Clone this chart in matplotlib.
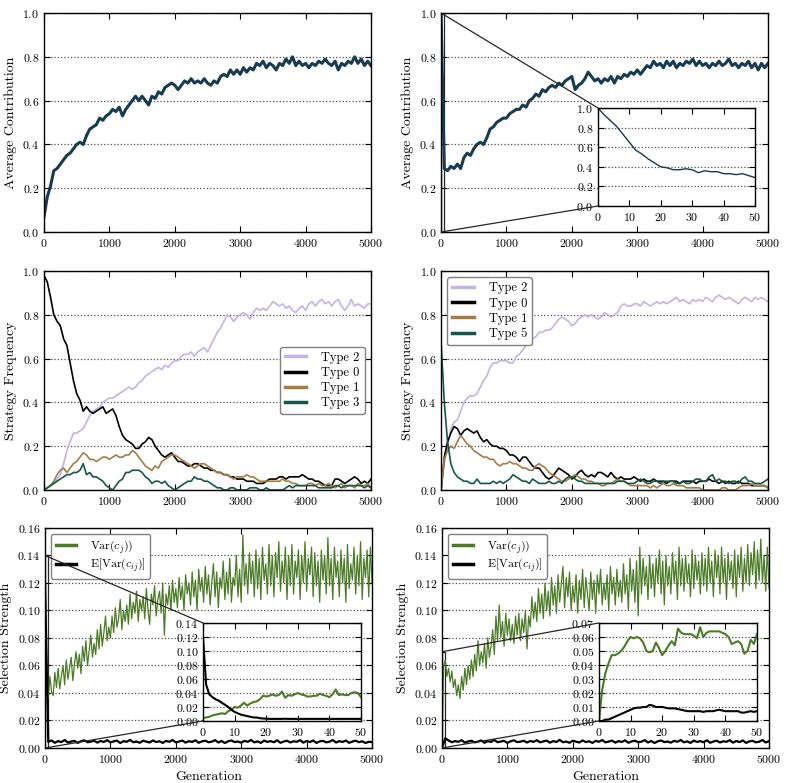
import matplotlib
matplotlib.use('Agg')
import matplotlib.pyplot as plt
from mpl_toolkits.axes_grid1.inset_locator import mark_inset

plt.rcParams.update({
    'font.family': 'serif',
    'font.serif': ['cmr10'],
    'mathtext.fontset': 'cm',
    'axes.unicode_minus': False,
    'axes.formatter.use_mathtext': True,
    'font.size': 8.5,
})

# generations sampled every 50 steps (every 25 for the noisy variance runs)
GEN = list(range(0, 5001, 50))
GEN_FINE = list(range(0, 5001, 25))

# ---- average contribution, run without / with initial cooperators ----
contrib_a = [0.07, 0.16, 0.21, 0.28, 0.29, 0.31, 0.33, 0.35, 0.36, 0.38,
             0.40, 0.41, 0.40, 0.44, 0.47, 0.48, 0.49, 0.52, 0.51, 0.53,
             0.54, 0.56, 0.55, 0.57, 0.53, 0.56, 0.58, 0.60, 0.62, 0.60,
             0.62, 0.60, 0.58, 0.62, 0.61, 0.64, 0.63, 0.66, 0.67, 0.68,
             0.67, 0.65, 0.67, 0.69, 0.68, 0.70, 0.68, 0.69, 0.68, 0.70,
             0.68, 0.67, 0.69, 0.68, 0.71, 0.72, 0.71, 0.74, 0.72, 0.74,
             0.72, 0.75, 0.73, 0.75, 0.74, 0.77, 0.76, 0.78, 0.75, 0.77,
             0.76, 0.74, 0.77, 0.76, 0.79, 0.77, 0.80, 0.76, 0.78, 0.76,
             0.77, 0.75, 0.77, 0.76, 0.78, 0.77, 0.79, 0.77, 0.76, 0.78,
             0.74, 0.77, 0.76, 0.78, 0.77, 0.80, 0.77, 0.79, 0.76, 0.78,
             0.76]
contrib_b = [1.00, 0.29, 0.28, 0.30, 0.29, 0.31, 0.29, 0.34, 0.36, 0.35,
             0.38, 0.40, 0.41, 0.40, 0.43, 0.47, 0.48, 0.50, 0.51, 0.52,
             0.52, 0.54, 0.55, 0.56, 0.56, 0.58, 0.57, 0.60, 0.61, 0.63,
             0.62, 0.65, 0.64, 0.66, 0.67, 0.66, 0.68, 0.67, 0.69, 0.70,
             0.71, 0.65, 0.67, 0.68, 0.70, 0.73, 0.71, 0.69, 0.70, 0.68,
             0.70, 0.69, 0.71, 0.68, 0.71, 0.70, 0.72, 0.71, 0.73, 0.72,
             0.74, 0.72, 0.74, 0.76, 0.75, 0.78, 0.76, 0.77, 0.75, 0.78,
             0.76, 0.78, 0.75, 0.77, 0.76, 0.78, 0.77, 0.79, 0.76, 0.78,
             0.76, 0.77, 0.75, 0.77, 0.76, 0.78, 0.76, 0.77, 0.79, 0.76,
             0.77, 0.75, 0.77, 0.76, 0.78, 0.75, 0.77, 0.74, 0.77, 0.75,
             0.77]
inset_gen_b = [0, 2, 4, 6, 8, 10, 12, 14, 16, 18, 20, 22, 24, 26, 28, 30,
               32, 34, 36, 38, 40, 42, 44, 46, 48, 50]
inset_contrib_b = [1.00, 0.93, 0.87, 0.81, 0.73, 0.65, 0.57, 0.53, 0.48,
                   0.44, 0.40, 0.39, 0.37, 0.37, 0.38, 0.37, 0.34, 0.36,
                   0.35, 0.35, 0.33, 0.33, 0.32, 0.33, 0.31, 0.29]

# ---- strategy frequencies, left run ----
c_type2 = [0.00, 0.01, 0.02, 0.03, 0.05, 0.07, 0.12, 0.18, 0.22, 0.26,
           0.26, 0.27, 0.28, 0.31, 0.34, 0.36, 0.37, 0.38, 0.40, 0.41,
           0.42, 0.42, 0.43, 0.44, 0.45, 0.46, 0.47, 0.46, 0.47, 0.49,
           0.50, 0.52, 0.53, 0.54, 0.55, 0.56, 0.55, 0.57, 0.56, 0.58,
           0.59, 0.59, 0.61, 0.62, 0.62, 0.63, 0.61, 0.63, 0.64, 0.65,
           0.63, 0.66, 0.69, 0.72, 0.74, 0.77, 0.80, 0.79, 0.77, 0.79,
           0.80, 0.81, 0.80, 0.78, 0.81, 0.83, 0.82, 0.83, 0.82, 0.84,
           0.86, 0.85, 0.84, 0.85, 0.83, 0.84, 0.82, 0.81, 0.83, 0.84,
           0.82, 0.85, 0.86, 0.84, 0.86, 0.87, 0.85, 0.86, 0.84, 0.86,
           0.87, 0.84, 0.82, 0.84, 0.87, 0.84, 0.85, 0.84, 0.83, 0.85,
           0.85]
c_type0 = [0.98, 0.95, 0.88, 0.80, 0.77, 0.75, 0.69, 0.66, 0.58, 0.50,
           0.44, 0.41, 0.36, 0.38, 0.36, 0.35, 0.36, 0.37, 0.38, 0.35,
           0.36, 0.37, 0.34, 0.29, 0.25, 0.23, 0.22, 0.21, 0.19, 0.19,
           0.21, 0.22, 0.24, 0.23, 0.20, 0.18, 0.16, 0.15, 0.16, 0.17,
           0.15, 0.13, 0.13, 0.12, 0.11, 0.11, 0.12, 0.12, 0.11, 0.10,
           0.10, 0.09, 0.09, 0.08, 0.08, 0.07, 0.07, 0.06, 0.06, 0.05,
           0.05, 0.05, 0.04, 0.04, 0.04, 0.03, 0.03, 0.03, 0.04, 0.05,
           0.05, 0.05, 0.06, 0.06, 0.05, 0.06, 0.06, 0.06, 0.06, 0.07,
           0.06, 0.05, 0.05, 0.04, 0.04, 0.03, 0.02, 0.02, 0.02, 0.05,
           0.05, 0.04, 0.03, 0.04, 0.05, 0.06, 0.05, 0.03, 0.04, 0.03,
           0.05]
c_type1 = [0.00, 0.01, 0.02, 0.04, 0.07, 0.09, 0.10, 0.08, 0.10, 0.12,
           0.13, 0.15, 0.17, 0.16, 0.14, 0.14, 0.13, 0.14, 0.15, 0.15,
           0.14, 0.15, 0.16, 0.15, 0.15, 0.16, 0.16, 0.18, 0.17, 0.15,
           0.13, 0.11, 0.10, 0.09, 0.11, 0.10, 0.13, 0.14, 0.15, 0.16,
           0.16, 0.15, 0.14, 0.13, 0.12, 0.11, 0.10, 0.11, 0.12, 0.12,
           0.11, 0.10, 0.09, 0.08, 0.08, 0.07, 0.07, 0.06, 0.05, 0.06,
           0.06, 0.06, 0.07, 0.06, 0.06, 0.05, 0.04, 0.04, 0.04, 0.04,
           0.04, 0.04, 0.04, 0.05, 0.04, 0.04, 0.03, 0.03, 0.02, 0.02,
           0.02, 0.03, 0.03, 0.02, 0.03, 0.02, 0.02, 0.03, 0.02, 0.01,
           0.02, 0.03, 0.01, 0.02, 0.02, 0.01, 0.03, 0.02, 0.02, 0.03,
           0.01]
c_type3 = [0.00, 0.01, 0.02, 0.03, 0.04, 0.05, 0.06, 0.07, 0.07, 0.08,
           0.08, 0.09, 0.12, 0.07, 0.08, 0.06, 0.06, 0.05, 0.04, 0.02,
           0.01, 0.00, 0.02, 0.04, 0.05, 0.08, 0.08, 0.09, 0.09, 0.09,
           0.08, 0.06, 0.05, 0.03, 0.04, 0.04, 0.03, 0.04, 0.02, 0.01,
           0.00, 0.01, 0.02, 0.03, 0.04, 0.04, 0.06, 0.05, 0.05, 0.04,
           0.04, 0.03, 0.02, 0.01, 0.01, 0.00, 0.00, 0.01, 0.01, 0.00,
           0.00, 0.00, 0.00, 0.01, 0.01, 0.01, 0.00, 0.00, 0.01, 0.00,
           0.00, 0.00, 0.00, 0.00, 0.01, 0.02, 0.01, 0.02, 0.02, 0.02,
           0.02, 0.02, 0.02, 0.02, 0.01, 0.01, 0.01, 0.01, 0.01, 0.02,
           0.02, 0.01, 0.02, 0.02, 0.02, 0.02, 0.02, 0.02, 0.01, 0.02,
           0.01]

# ---- strategy frequencies, right run ----
d_type2 = [0.00, 0.12, 0.20, 0.28, 0.31, 0.32, 0.36, 0.40, 0.42, 0.43,
           0.43, 0.44, 0.47, 0.50, 0.52, 0.56, 0.58, 0.58, 0.59, 0.59,
           0.59, 0.58, 0.58, 0.61, 0.62, 0.64, 0.66, 0.67, 0.69, 0.70,
           0.72, 0.72, 0.73, 0.73, 0.74, 0.76, 0.78, 0.79, 0.78, 0.77,
           0.75, 0.76, 0.78, 0.79, 0.80, 0.79, 0.80, 0.79, 0.78, 0.79,
           0.81, 0.80, 0.79, 0.80, 0.81, 0.84, 0.85, 0.84, 0.84, 0.85,
           0.85, 0.84, 0.86, 0.85, 0.84, 0.85, 0.86, 0.85, 0.86, 0.85,
           0.86, 0.87, 0.88, 0.86, 0.87, 0.86, 0.85, 0.87, 0.86, 0.87,
           0.86, 0.88, 0.87, 0.86, 0.88, 0.89, 0.88, 0.87, 0.88, 0.87,
           0.86, 0.85, 0.87, 0.88, 0.87, 0.86, 0.88, 0.87, 0.88, 0.87,
           0.86]
d_type0 = [0.00, 0.15, 0.22, 0.26, 0.29, 0.28, 0.25, 0.27, 0.28, 0.27,
           0.26, 0.27, 0.24, 0.22, 0.23, 0.21, 0.20, 0.20, 0.19, 0.19,
           0.18, 0.16, 0.16, 0.15, 0.13, 0.15, 0.15, 0.13, 0.11, 0.10,
           0.10, 0.08, 0.06, 0.05, 0.06, 0.08, 0.10, 0.09, 0.08, 0.07,
           0.05, 0.06, 0.08, 0.09, 0.07, 0.06, 0.07, 0.06, 0.08, 0.08,
           0.07, 0.06, 0.08, 0.06, 0.05, 0.06, 0.05, 0.05, 0.05, 0.06,
           0.05, 0.04, 0.05, 0.04, 0.04, 0.05, 0.04, 0.04, 0.04, 0.03,
           0.04, 0.04, 0.04, 0.03, 0.04, 0.04, 0.04, 0.04, 0.03, 0.04,
           0.04, 0.04, 0.05, 0.04, 0.04, 0.03, 0.04, 0.03, 0.04, 0.03,
           0.03, 0.04, 0.03, 0.03, 0.03, 0.02, 0.02, 0.02, 0.02, 0.02,
           0.01]
d_type1 = [0.00, 0.14, 0.18, 0.20, 0.19, 0.22, 0.25, 0.23, 0.21, 0.20,
           0.18, 0.17, 0.16, 0.15, 0.15, 0.14, 0.14, 0.12, 0.11, 0.12,
           0.12, 0.13, 0.12, 0.12, 0.11, 0.10, 0.10, 0.09, 0.09, 0.11,
           0.12, 0.11, 0.10, 0.08, 0.07, 0.06, 0.05, 0.04, 0.04, 0.05,
           0.06, 0.07, 0.06, 0.05, 0.05, 0.04, 0.04, 0.03, 0.03, 0.02,
           0.02, 0.03, 0.03, 0.04, 0.05, 0.04, 0.04, 0.03, 0.02, 0.02,
           0.02, 0.02, 0.02, 0.02, 0.01, 0.02, 0.01, 0.02, 0.03, 0.02,
           0.02, 0.03, 0.02, 0.02, 0.02, 0.01, 0.01, 0.01, 0.01, 0.01,
           0.00, 0.00, 0.00, 0.00, 0.00, 0.00, 0.01, 0.01, 0.00, 0.00,
           0.00, 0.01, 0.02, 0.02, 0.02, 0.03, 0.02, 0.02, 0.02, 0.02,
           0.01]
d_type5 = [0.68, 0.40, 0.22, 0.12, 0.08, 0.06, 0.05, 0.04, 0.04, 0.03,
           0.03, 0.05, 0.03, 0.03, 0.03, 0.03, 0.04, 0.03, 0.04, 0.03,
           0.04, 0.05, 0.07, 0.06, 0.05, 0.04, 0.04, 0.03, 0.05, 0.04,
           0.03, 0.03, 0.03, 0.04, 0.03, 0.03, 0.04, 0.03, 0.05, 0.06,
           0.06, 0.05, 0.04, 0.04, 0.03, 0.03, 0.03, 0.03, 0.03, 0.03,
           0.03, 0.03, 0.03, 0.03, 0.04, 0.04, 0.04, 0.03, 0.03, 0.03,
           0.04, 0.05, 0.04, 0.03, 0.03, 0.04, 0.04, 0.03, 0.04, 0.04,
           0.04, 0.04, 0.03, 0.03, 0.04, 0.03, 0.03, 0.04, 0.05, 0.05,
           0.04, 0.04, 0.06, 0.07, 0.04, 0.05, 0.04, 0.04, 0.03, 0.04,
           0.04, 0.03, 0.05, 0.06, 0.04, 0.04, 0.03, 0.03, 0.03, 0.04,
           0.05]

# ---- selection strength, left run (Var every 25 gens, E[Var] every 50) ----
e_var = [0.030, 0.046, 0.036, 0.052, 0.041, 0.038, 0.055, 0.044, 0.058, 0.043,
         0.052, 0.060, 0.046, 0.064, 0.050, 0.058, 0.066, 0.049, 0.061, 0.070,
         0.058, 0.068, 0.054, 0.074, 0.063, 0.078, 0.060, 0.071, 0.082, 0.066,
         0.076, 0.068, 0.086, 0.072, 0.090, 0.074, 0.084, 0.096, 0.078, 0.088,
         0.080, 0.096, 0.084, 0.102, 0.088, 0.094, 0.108, 0.086, 0.100, 0.092,
         0.104, 0.090, 0.112, 0.094, 0.106, 0.098, 0.114, 0.092, 0.108, 0.100,
         0.110, 0.094, 0.116, 0.100, 0.090, 0.112, 0.104, 0.118, 0.096, 0.108,
         0.114, 0.098, 0.120, 0.082, 0.112, 0.104, 0.118, 0.100, 0.122, 0.106,
         0.116, 0.102, 0.124, 0.108, 0.118, 0.100, 0.126, 0.112, 0.120, 0.104,
         0.128, 0.110, 0.122, 0.100, 0.130, 0.114, 0.124, 0.106, 0.132, 0.112,
         0.126, 0.104, 0.120, 0.134, 0.110, 0.128, 0.102, 0.124, 0.116, 0.136,
         0.108, 0.128, 0.112, 0.138, 0.106, 0.124, 0.118, 0.140, 0.110, 0.130,
         0.106, 0.155, 0.118, 0.134, 0.112, 0.142, 0.120, 0.136, 0.110, 0.144,
         0.116, 0.138, 0.108, 0.146, 0.122, 0.134, 0.112, 0.148, 0.118, 0.140,
         0.110, 0.142, 0.124, 0.150, 0.114, 0.136, 0.120, 0.146, 0.108, 0.140,
         0.118, 0.148, 0.112, 0.136, 0.124, 0.144, 0.108, 0.140, 0.120, 0.150,
         0.114, 0.138, 0.126, 0.146, 0.110, 0.142, 0.118, 0.136, 0.106, 0.144,
         0.122, 0.140, 0.112, 0.153, 0.118, 0.138, 0.108, 0.146, 0.124, 0.136,
         0.110, 0.144, 0.120, 0.138, 0.106, 0.148, 0.116, 0.134, 0.122, 0.146,
         0.112, 0.140, 0.118, 0.150, 0.108, 0.138, 0.124, 0.144, 0.110, 0.146,
         0.120]
e_evar = [0.120, 0.0045, 0.0055, 0.0038, 0.0050, 0.0043, 0.0058, 0.0040, 0.0047, 0.0052,
          0.0037, 0.0049, 0.0056, 0.0042, 0.0046, 0.0053, 0.0039, 0.0051, 0.0044, 0.0057,
          0.0041, 0.0048, 0.0054, 0.0036, 0.0050, 0.0045, 0.0059, 0.0042, 0.0047, 0.0038,
          0.0053, 0.0046, 0.0040, 0.0055, 0.0043, 0.0049, 0.0037, 0.0052, 0.0045, 0.0058,
          0.0041, 0.0047, 0.0054, 0.0039, 0.0050, 0.0044, 0.0056, 0.0038, 0.0048, 0.0053,
          0.0042, 0.0046, 0.0057, 0.0040, 0.0051, 0.0036, 0.0049, 0.0055, 0.0043, 0.0047,
          0.0039, 0.0052, 0.0045, 0.0058, 0.0041, 0.0048, 0.0037, 0.0054, 0.0044, 0.0050,
          0.0042, 0.0056, 0.0038, 0.0047, 0.0053, 0.0040, 0.0049, 0.0045, 0.0057, 0.0039,
          0.0051, 0.0043, 0.0055, 0.0037, 0.0048, 0.0052, 0.0041, 0.0046, 0.0058, 0.0040,
          0.0050, 0.0044, 0.0054, 0.0038, 0.0047, 0.0053, 0.0042, 0.0049, 0.0036, 0.0045,
          0.0043]
inset_gen_e = [0, 1, 2, 3, 4, 5, 6, 7, 8, 9, 10, 11, 12, 13, 14, 15, 16, 17,
               18, 19, 20, 21, 22, 23, 24, 25, 26, 27, 28, 29, 30, 31, 32, 33,
               34, 35, 36, 37, 38, 39, 40, 41, 42, 43, 44, 45, 46, 47, 48, 49, 50]
inset_var_e = [0.004, 0.005, 0.006, 0.008, 0.009, 0.010, 0.011, 0.010, 0.014,
               0.016, 0.020, 0.019, 0.022, 0.026, 0.022, 0.025, 0.027, 0.028,
               0.031, 0.036, 0.035, 0.036, 0.038, 0.036, 0.037, 0.042, 0.033,
               0.037, 0.036, 0.038, 0.040, 0.038, 0.037, 0.035, 0.035, 0.036,
               0.036, 0.039, 0.037, 0.036, 0.034, 0.038, 0.045, 0.037, 0.038,
               0.037, 0.037, 0.040, 0.041, 0.040, 0.034]
inset_evar_e = [0.121, 0.052, 0.038, 0.034, 0.031, 0.029, 0.026, 0.023, 0.020,
                0.016, 0.013, 0.011, 0.009, 0.008, 0.007, 0.006, 0.005, 0.005,
                0.004, 0.0035, 0.0033, 0.003, 0.003, 0.003, 0.003, 0.003, 0.0032,
                0.003, 0.003, 0.003, 0.003, 0.003, 0.003, 0.003, 0.003, 0.003,
                0.003, 0.003, 0.003, 0.003, 0.003, 0.003, 0.003, 0.003, 0.003,
                0.003, 0.003, 0.003, 0.003, 0.003, 0.003]

# ---- selection strength, right run ----
f_var = [0.000, 0.060, 0.064, 0.052, 0.058, 0.048, 0.056, 0.044, 0.050, 0.038,
         0.046, 0.036, 0.052, 0.042, 0.058, 0.046, 0.060, 0.050, 0.064, 0.052,
         0.068, 0.056, 0.078, 0.060, 0.070, 0.062, 0.076, 0.058, 0.080, 0.066,
         0.074, 0.086, 0.068, 0.096, 0.078, 0.104, 0.080, 0.092, 0.074, 0.098,
         0.082, 0.094, 0.078, 0.090, 0.076, 0.096, 0.082, 0.098, 0.078, 0.094,
         0.084, 0.100, 0.072, 0.096, 0.088, 0.110, 0.094, 0.106, 0.092, 0.116,
         0.098, 0.112, 0.094, 0.120, 0.100, 0.114, 0.096, 0.124, 0.104, 0.118,
         0.098, 0.126, 0.106, 0.120, 0.132, 0.102, 0.124, 0.110, 0.128, 0.100,
         0.118, 0.106, 0.126, 0.098, 0.122, 0.108, 0.130, 0.102, 0.124, 0.112,
         0.100, 0.128, 0.108, 0.122, 0.098, 0.126, 0.112, 0.130, 0.104, 0.120,
         0.108, 0.126, 0.100, 0.132, 0.112, 0.124, 0.104, 0.130, 0.110, 0.122,
         0.106, 0.134, 0.112, 0.126, 0.100, 0.138, 0.114, 0.130, 0.106, 0.136,
         0.096, 0.146, 0.112, 0.138, 0.118, 0.132, 0.108, 0.140, 0.116, 0.134,
         0.110, 0.138, 0.120, 0.144, 0.112, 0.136, 0.104, 0.140, 0.118, 0.132,
         0.112, 0.142, 0.120, 0.136, 0.108, 0.146, 0.118, 0.138, 0.114, 0.140,
         0.120, 0.134, 0.110, 0.144, 0.116, 0.140, 0.122, 0.136, 0.112, 0.142,
         0.118, 0.138, 0.114, 0.146, 0.120, 0.136, 0.110, 0.144, 0.124, 0.140,
         0.112, 0.146, 0.120, 0.138, 0.108, 0.142, 0.122, 0.136, 0.116, 0.144,
         0.110, 0.140, 0.124, 0.146, 0.114, 0.138, 0.120, 0.148, 0.118, 0.142,
         0.126, 0.150, 0.116, 0.144, 0.122, 0.152, 0.120, 0.140, 0.114, 0.146,
         0.116]
f_evar = [0.000, 0.0070, 0.0055, 0.0042, 0.0050, 0.0045, 0.0057, 0.0039, 0.0048, 0.0053,
          0.0041, 0.0046, 0.0055, 0.0038, 0.0050, 0.0044, 0.0058, 0.0042, 0.0047, 0.0052,
          0.0037, 0.0049, 0.0056, 0.0043, 0.0046, 0.0053, 0.0040, 0.0051, 0.0045, 0.0057,
          0.0041, 0.0048, 0.0054, 0.0039, 0.0050, 0.0044, 0.0059, 0.0042, 0.0047, 0.0038,
          0.0053, 0.0046, 0.0040, 0.0055, 0.0043, 0.0049, 0.0037, 0.0052, 0.0045, 0.0058,
          0.0041, 0.0047, 0.0054, 0.0039, 0.0050, 0.0044, 0.0056, 0.0038, 0.0048, 0.0053,
          0.0042, 0.0046, 0.0057, 0.0040, 0.0051, 0.0036, 0.0049, 0.0055, 0.0043, 0.0047,
          0.0039, 0.0052, 0.0045, 0.0058, 0.0041, 0.0048, 0.0037, 0.0054, 0.0044, 0.0050,
          0.0042, 0.0056, 0.0038, 0.0047, 0.0053, 0.0040, 0.0049, 0.0045, 0.0057, 0.0039,
          0.0051, 0.0043, 0.0055, 0.0037, 0.0048, 0.0052, 0.0041, 0.0046, 0.0058, 0.0040,
          0.0050]
inset_gen_f = inset_gen_e
inset_var_f = [0.000, 0.022, 0.034, 0.041, 0.047, 0.047, 0.048, 0.050, 0.053,
               0.057, 0.060, 0.059, 0.060, 0.059, 0.056, 0.050, 0.049, 0.050,
               0.056, 0.052, 0.047, 0.050, 0.054, 0.057, 0.054, 0.066, 0.063,
               0.062, 0.062, 0.062, 0.061, 0.059, 0.067, 0.060, 0.063, 0.064,
               0.064, 0.064, 0.064, 0.063, 0.062, 0.060, 0.055, 0.056, 0.057,
               0.055, 0.048, 0.050, 0.058, 0.055, 0.062]
inset_evar_f = [0.000, 0.000, 0.001, 0.001, 0.002, 0.003, 0.004, 0.005, 0.006,
                0.007, 0.008, 0.009, 0.0095, 0.0095, 0.010, 0.010, 0.0115, 0.011,
                0.010, 0.010, 0.010, 0.0095, 0.009, 0.009, 0.009, 0.0085, 0.008,
                0.0075, 0.007, 0.007, 0.007, 0.007, 0.007, 0.0065, 0.007, 0.007,
                0.007, 0.0075, 0.008, 0.0075, 0.007, 0.007, 0.007, 0.007, 0.007,
                0.006, 0.006, 0.0065, 0.007, 0.0065, 0.007]

COL_CONTRIB = '#173b4f'
COL_T2 = '#c4b2ea'
COL_T0 = 'black'
COL_T1 = '#a67c45'
COL_T35 = '#17574a'
COL_VAR = '#4c7b27'


def style(ax, ymax, ystep, xmax=5000, labelsize=8.5):
    ax.set_xlim(0, xmax)
    ax.set_ylim(0, ymax)
    ax.set_yticks([i * ystep for i in range(int(round(ymax / ystep)) + 1)])
    ax.yaxis.grid(True, linestyle=':', color='0.3', linewidth=0.9)
    ax.set_axisbelow(True)
    ax.tick_params(direction='in', top=True, right=True, length=4,
                   width=0.8, labelsize=labelsize)
    for s in ax.spines.values():
        s.set_linewidth(1.0)


def add_legend(ax, loc, size=9, spacing=0.25):
    leg = ax.legend(loc=loc, fontsize=size, handlelength=1.7, handletextpad=1.2,
                    borderpad=0.4, labelspacing=spacing, fancybox=True,
                    framealpha=1, edgecolor='0.5')
    for lh in leg.get_lines():
        lh.set_linewidth(2.5)
    return leg


fig = plt.figure(figsize=(7.87, 7.83), dpi=100)
W, H = 0.4155, 0.2797
ax_a = fig.add_axes([0.0559, 0.7037, W, H])
ax_b = fig.add_axes([0.5604, 0.7037, W, H])
ax_c = fig.add_axes([0.0559, 0.3742, W, H])
ax_d = fig.add_axes([0.5604, 0.3742, W, H])
ax_e = fig.add_axes([0.0572, 0.0447, W, 0.281])
ax_f = fig.add_axes([0.5616, 0.0447, W, 0.281])

LABEL_SIZE = 10

# top row: contribution
ax_a.plot(GEN, contrib_a, color=COL_CONTRIB, linewidth=2.2)
style(ax_a, 1.0, 0.2)
ax_a.set_ylabel('Average Contribution', fontsize=LABEL_SIZE)

ax_b.plot(GEN, contrib_b, color=COL_CONTRIB, linewidth=2.2)
style(ax_b, 1.0, 0.2)
ax_b.set_ylabel('Average Contribution', fontsize=LABEL_SIZE)

ins_b = fig.add_axes([0.7598, 0.7369, 0.1995, 0.1252])
ins_b.plot(inset_gen_b, inset_contrib_b, color=COL_CONTRIB, linewidth=1.0)
style(ins_b, 1.0, 0.2, xmax=50)
ins_b.set_xticks([0, 10, 20, 30, 40, 50])
mark_inset(ax_b, ins_b, loc1=2, loc2=3, fc='none', ec='0.15', lw=0.9)

# middle row: strategy frequencies
ax_c.plot(GEN, c_type2, color=COL_T2, linewidth=1.2, label='Type 2')
ax_c.plot(GEN, c_type0, color=COL_T0, linewidth=1.2, label='Type 0')
ax_c.plot(GEN, c_type1, color=COL_T1, linewidth=1.2, label='Type 1')
ax_c.plot(GEN, c_type3, color=COL_T35, linewidth=1.2, label='Type 3')
style(ax_c, 1.0, 0.2)
ax_c.set_ylabel('Strategy Frequency', fontsize=LABEL_SIZE)
add_legend(ax_c, 'center right')

ax_d.plot(GEN, d_type2, color=COL_T2, linewidth=1.2, label='Type 2')
ax_d.plot(GEN, d_type0, color=COL_T0, linewidth=1.2, label='Type 0')
ax_d.plot(GEN, d_type1, color=COL_T1, linewidth=1.2, label='Type 1')
ax_d.plot(GEN, d_type5, color=COL_T35, linewidth=1.2, label='Type 5')
style(ax_d, 1.0, 0.2)
ax_d.set_ylabel('Strategy Frequency', fontsize=LABEL_SIZE)
add_legend(ax_d, 'upper left')

# bottom row: selection strength
for ax, var, evar in [(ax_e, e_var, e_evar), (ax_f, f_var, f_evar)]:
    ax.plot(GEN_FINE, var, color=COL_VAR, linewidth=0.9,
            label=r'$\mathrm{Var}(c_j))$')
    ax.plot(GEN, evar, color='black', linewidth=1.6,
            label=r'$\mathrm{E}[\mathrm{Var}(c_{ij})]$')
    style(ax, 0.16, 0.02)
    ax.set_ylabel('Selection Strength', fontsize=LABEL_SIZE)
    ax.set_xlabel('Generation', fontsize=LABEL_SIZE)
    add_legend(ax, 'upper left', size=8.5, spacing=0.12)

ins_e = fig.add_axes([0.2579, 0.0792, 0.2008, 0.1252])
ins_e.plot(inset_gen_e, inset_var_e, color=COL_VAR, linewidth=1.5)
ins_e.plot(inset_gen_e, inset_evar_e, color='black', linewidth=1.5)
style(ins_e, 0.14, 0.02, xmax=50)
ins_e.set_xticks([0, 10, 20, 30, 40, 50])
mark_inset(ax_e, ins_e, loc1=2, loc2=3, fc='none', ec='0.15', lw=0.9)

ins_f = fig.add_axes([0.7611, 0.0792, 0.2008, 0.1252])
ins_f.plot(inset_gen_f, inset_var_f, color=COL_VAR, linewidth=1.5)
ins_f.plot(inset_gen_f, inset_evar_f, color='black', linewidth=1.5)
style(ins_f, 0.07, 0.01, xmax=50)
ins_f.set_xticks([0, 10, 20, 30, 40, 50])
mark_inset(ax_f, ins_f, loc1=2, loc2=3, fc='none', ec='0.15', lw=0.9)

plt.savefig('out.png', dpi=100)
plt.close()
